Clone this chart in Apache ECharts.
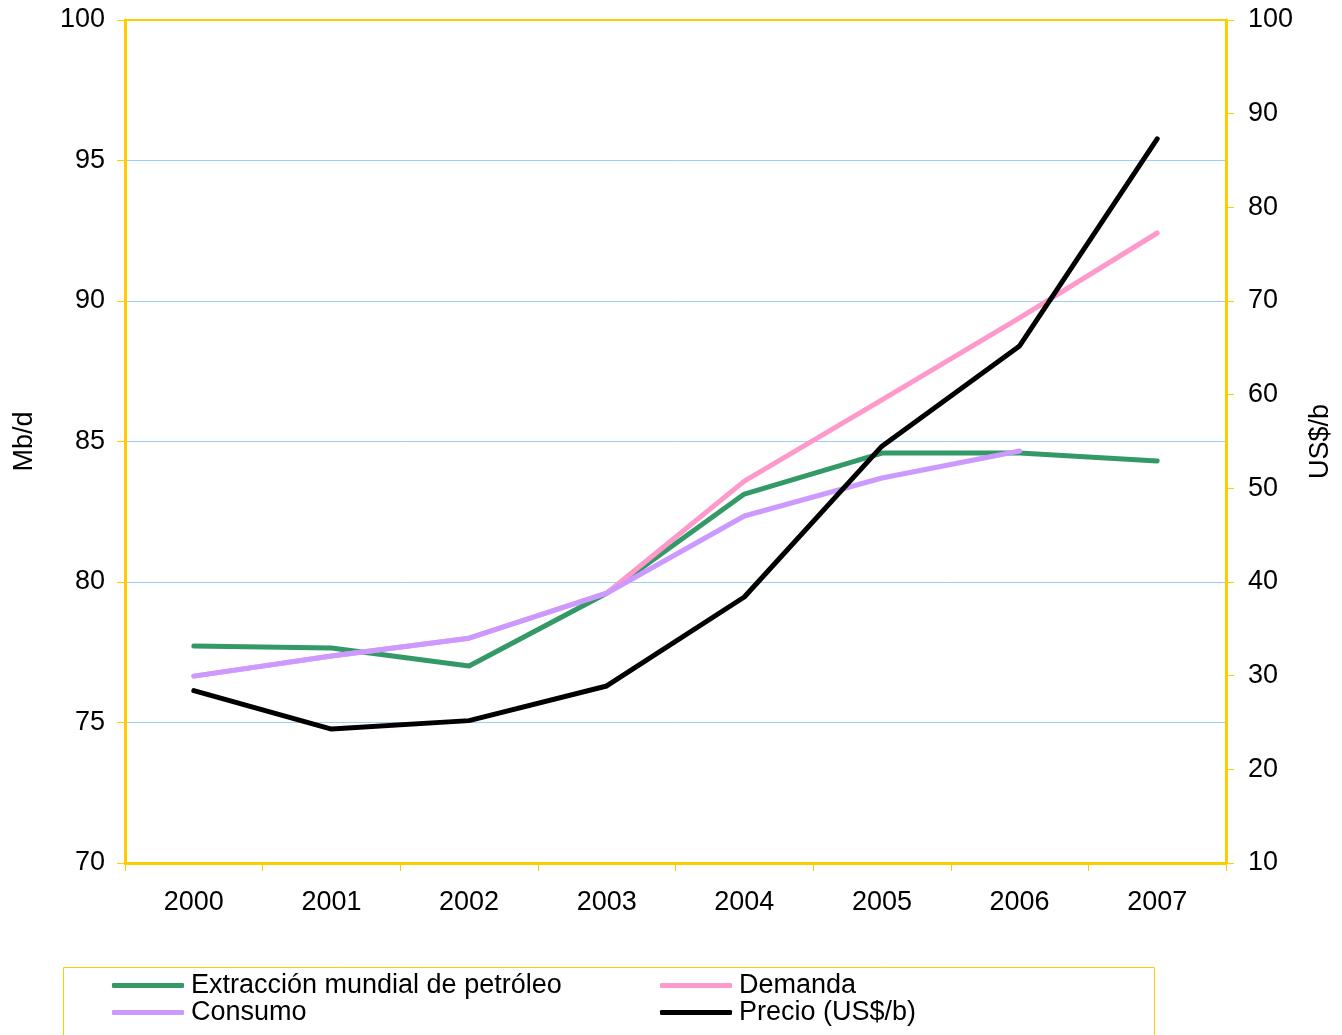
<!DOCTYPE html>
<html>
<head>
<meta charset="utf-8">
<script src="https://cdn.jsdelivr.net/npm/echarts@6/dist/echarts.min.js"></script>
<style>
  html, body { margin: 0; padding: 0; background: #fff; }
  #chart { width: 1342px; height: 1035px; }
</style>
</head>
<body>
<div id="chart"></div>
<script>
// Data
const years = ['2000', '2001', '2002', '2003', '2004', '2005', '2006', '2007'];
const extraccion = [77.72, 77.65, 77.01, 79.6, 83.13, 84.59, 84.59, 84.31];
const demanda = [76.65, 77.37, 78.0, 79.6, 83.59, 86.48, 89.4, 92.42];
const consumo = [76.65, 77.37, 78.0, 79.6, 82.35, 83.7, 84.66, null];
const precio = [28.4, 24.3, 25.2, 28.9, 38.4, 54.5, 65.2, 87.3];

const gold = '#FFCC00';
const font = '"Liberation Sans", Arial, sans-serif';
const fs = 27;

const lineSeries = (name, data, color, axis) => ({
  name, type: 'line', data, yAxisIndex: axis,
  symbol: 'none', connectNulls: false,
  lineStyle: { color, width: 5, cap: 'round', join: 'round' },
  itemStyle: { color },
  animation: false,
});

const legendBase = {
  orient: 'vertical',
  itemWidth: 72, itemHeight: 5, itemGap: 0,
  icon: 'roundRect',
  textStyle: { fontFamily: font, fontSize: fs, lineHeight: 27, color: '#000', padding: [0, 0, 0, 2] },
  selectedMode: false,
};

const chart = echarts.init(document.getElementById('chart'), null, { renderer: 'canvas' });
chart.setOption({
  backgroundColor: '#fff',
  textStyle: { fontFamily: font },
  grid: { left: 125, right: 115, top: 20, bottom: 172, show: true, borderColor: gold, borderWidth: 2, backgroundColor: 'transparent' },
  graphic: [{
    type: 'rect', left: 61, top: 965,
    shape: { width: 1091, height: 90 },
    style: { fill: 'none', stroke: gold, lineWidth: 1 },
    silent: true,
  }],
  legend: [
    Object.assign({ left: 112, top: 972, padding: 0, data: ['Extracción mundial de petróleo', 'Consumo'] }, legendBase),
    Object.assign({ left: 660, top: 972, padding: 0, data: ['Demanda', 'Precio (US$/b)'] }, legendBase),
  ],
  xAxis: {
    type: 'category', data: years, boundaryGap: true,
    axisLine: { lineStyle: { color: gold, width: 3 } },
    axisTick: { show: true, length: 8, lineStyle: { color: gold, width: 1 } },
    axisLabel: { color: '#000', fontSize: fs, margin: 26, fontFamily: font },
    splitLine: { show: false },
  },
  yAxis: [{
    type: 'value', min: 70, max: 100, interval: 5,
    name: 'Mb/d', nameLocation: 'middle', nameGap: 87, nameRotate: 90,
    nameTextStyle: { color: '#000', fontSize: fs, fontFamily: font },
    axisLine: { show: true, lineStyle: { color: gold, width: 3 } },
    axisTick: { show: true, length: 8, lineStyle: { color: gold, width: 1 } },
    axisLabel: { color: '#000', fontSize: fs, margin: 20, fontFamily: font },
    splitLine: { show: true, showMinLine: false, showMaxLine: false, lineStyle: { color: '#99CCFF', width: 1 } },
  }, {
    type: 'value', min: 10, max: 100, interval: 10, position: 'right',
    name: 'US$/b', nameLocation: 'middle', nameGap: 81, nameRotate: 90,
    nameTextStyle: { color: '#000', fontSize: fs, fontFamily: font },
    axisLine: { show: true, lineStyle: { color: gold, width: 3 } },
    axisTick: { show: true, length: 8, lineStyle: { color: gold, width: 1 } },
    axisLabel: { color: '#000', fontSize: fs, margin: 22, fontFamily: font },
    splitLine: { show: false },
  }],
  series: [
    lineSeries('Extracción mundial de petróleo', extraccion, '#339966', 0),
    lineSeries('Demanda', demanda, '#FF99CC', 0),
    lineSeries('Consumo', consumo, '#CC99FF', 0),
    lineSeries('Precio (US$/b)', precio, '#000000', 1),
  ],
});
</script>
</body>
</html>
